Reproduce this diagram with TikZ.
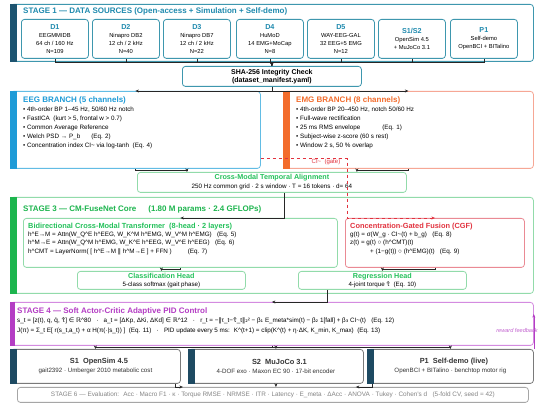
\documentclass[tikz,border=0pt]{standalone}
\usepackage[svgnames]{xcolor}
\usepackage{fontspec}
\setmainfont{Liberation Sans}
\newfontfamily\symfont{DejaVu Sans}
\usepackage{tikz}
\usetikzlibrary{arrows.meta}
\usetikzlibrary{calc}

\definecolor{SrcBlue}{HTML}{1F8AAE}
\definecolor{SrcLine}{HTML}{3E97AE}
\definecolor{SrcBar}{HTML}{1D5470}
\definecolor{EegBlue}{HTML}{1E9BD7}
\definecolor{EegLine}{HTML}{62BCE4}
\definecolor{EmgOrange}{HTML}{F36C2C}
\definecolor{EmgLine}{HTML}{F6A795}
\definecolor{CoreGreen}{HTML}{23C15A}
\definecolor{CoreBar}{HTML}{1DB54E}
\definecolor{CoreLine}{HTML}{92DBAA}
\definecolor{GateRed}{HTML}{E2323E}
\definecolor{GateLine}{HTML}{EA8A94}
\definecolor{PidPurple}{HTML}{B43DC4}
\definecolor{PidLine}{HTML}{D48BE0}
\definecolor{SimBar}{HTML}{1E4A62}
\definecolor{SimLine}{HTML}{7A7A7A}
\definecolor{EvalGrey}{HTML}{858585}

\newcommand{\Sy}[1]{{\symfont #1}}

\begin{document}
\catcode`\_=12 \catcode`\^=12 \catcode`\~=12
\begin{tikzpicture}[x=1pt,y=-1pt,>={Stealth[length=3.5pt,width=3pt]}]
        \tikzset{
            box/.style={draw, rounded corners=3pt, fill=white, line width=0.8pt,
                anchor=north west, inner sep=0pt, align=center},
            body/.style={font=\fontsize{6.3}{9}\selectfont, anchor=base west, inner sep=0pt},
            heading/.style={font=\fontsize{8}{9}\selectfont\bfseries, anchor=base west, inner sep=0pt},
            conn/.style={->, line width=0.8pt, black!85},
            gate/.style={->, dashed, GateRed, line width=0.6pt},
            feedback/.style={->, PidPurple, line width=0.6pt},
        }
        \newcommand{\SideBar}[3][7pt]{% node, colour
            \fill[#3] (#2.north west) rectangle ([xshift=#1]#2.south west);
        }
        \newcommand{\SrcHead}{\fontsize{7.2}{8}\selectfont\bfseries\color{SrcBlue}}
        \newcommand{\BoxHead}{\fontsize{7.2}{9}\selectfont\bfseries\color{CoreGreen}}
        \newcommand{\SimHead}{\fontsize{7.4}{9}\selectfont\bfseries\color{black!80}}

        \useasboundingbox[fill=white] (0,0) rectangle (550,409);

        % stage 1
        \node[box, draw=SrcLine, minimum width=523pt, minimum height=57pt] (st1) at (10,4) {};
        \SideBar{st1}{SrcBar}
        \node[heading, text=SrcBlue] (st1head) at (23,14)
            {STAGE 1 — DATA SOURCES (Open-access + Simulation + Self-demo)};
        \foreach \n/\x/\t in {
            d1/21/{{\SrcHead D1}\\EEGMMIDB\\64 ch / 160 Hz\\N=109},
            d2/92/{{\SrcHead D2}\\Ninapro DB2\\12 ch / 2 kHz\\N=40},
            d3/163/{{\SrcHead D3}\\Ninapro DB7\\12 ch / 2 kHz\\N=22},
            d4/236/{{\SrcHead D4}\\HuMoD\\14 EMG+MoCap\\N=8},
            d5/307/{{\SrcHead D5}\\WAY-EEG-GAL\\32 EEG+5 EMG\\N=12},
            s12/378/{{\SrcHead S1/S2}\\OpenSim 4.5\\+ MuJoCo 3.1},
            p1/450/{{\SrcHead P1}\\Self-demo\\OpenBCI + BITalino}} {
            \node[box, draw=SrcLine, minimum width=67pt, minimum height=39pt,
                font=\fontsize{5.8}{8}\selectfont] (\n) at (\x,19) {\t};
        }

        \node[box, draw=SrcLine, minimum width=179pt, minimum height=20pt,
            font=\fontsize{7}{8}\selectfont\bfseries] (sha) at (182,66)
            {SHA-256 Integrity Check\\(dataset_manifest.yaml)};
        \foreach \n in {d1,d2,d3,d4,d5,s12,p1} {
            \draw[conn] (\n.south) -- ++(0,4) -| (sha.north);
        }

        % branches
        \node[box, draw=EegLine, minimum width=250pt, minimum height=77pt] (eeg) at (10,91) {};
        \SideBar{eeg}{EegBlue}
        \node[heading, text=EegBlue] (eeghead) at (23,103) {EEG BRANCH (5 channels)};
        \foreach \t [count=\i] in {
            {• 4th-order BP 1–45 Hz, 50/60 Hz notch},
            {• FastICA \ (kurt > 5, frontal w > 0.7)},
            {• Common Average Reference},
            {• Welch PSD → P_b\hspace{11pt}(Eq. 2)},
            {• Concentration index CI~ via log-tanh \ (Eq. 4)}} {
            \node[body] at (23,102.3+9*\i) {\t};
        }

        \node[box, draw=EmgLine, minimum width=250pt, minimum height=77pt] (emg) at (283,91) {};
        \SideBar{emg}{EmgOrange}
        \node[heading, text=EmgOrange] (emghead) at (296,103) {EMG BRANCH (8 channels)};
        \foreach \t [count=\i] in {
            {• 4th-order BP 20–450 Hz, notch 50/60 Hz},
            {• Full-wave rectification},
            {• 25 ms RMS envelope\hspace{22pt}(Eq. 1)},
            {• Subject-wise z-score (60 s rest)},
            {• Window 2 s, 50 \% overlap}} {
            \node[body] at (296,102.3+9*\i) {\t};
        }

        \draw[conn] (sha.south) |- (eeg.north);
        \draw[conn] (sha.south) |- (emg.north);

        \node[box, draw=CoreLine, minimum width=269pt, minimum height=20pt,
            font=\fontsize{6.3}{9}\selectfont] (cross) at (137,172)
            {{\BoxHead Cross-Modal Temporal Alignment}\\250 Hz common grid · 2 s window · T = 16 tokens · d= 64};
        \draw[conn] (eeg.south) -- ++(0,2) -| ([xshift=-85pt]cross.north);
        \draw[conn] (emg.south) -- ++(0,2) -| ([xshift=85pt]cross.north);

        % stage 3
        \node[box, draw=CoreLine, minimum width=523pt, minimum height=96pt] (st3) at (10,197) {};
        \SideBar{st3}{CoreBar}
        \node[heading, text=CoreBar] (st3head) at (23,212)
            {STAGE 3 — CM-FuseNet Core\hspace{12pt}(1.80 M params · 2.4 GFLOPs)};

        \node[box, draw=CoreLine, minimum width=314pt, minimum height=49pt] (bcmt) at (23,218) {};
        \node[heading, text=CoreGreen, font=\fontsize{7.4}{9}\selectfont\bfseries] (bcmthead) at (28,229)
            {Bidirectional Cross-Modal Transformer \ (8-head · 2 layers)};
        \foreach \t [count=\i] in {
            {h^E→M = Attn(W_Q^E h^EEG, W_K^M h^EMG, W_V^M h^EMG) \ \ (Eq. 5)},
            {h^M→E = Attn(W_Q^M h^EMG, W_K^E h^EEG, W_V^E h^EEG) \ \ (Eq. 6)},
            {h^CMT = LayerNorm( [ h^E→M \Sy{‖} h^M→E ] + FFN )\hspace{16pt}(Eq. 7)}} {
            \node[body] at (28,228+8.4*\i) {\t};
        }

        \node[box, draw=GateLine, minimum width=179pt, minimum height=49pt] (cgf) at (345,218) {};
        \node[heading, text=GateRed, font=\fontsize{7.4}{9}\selectfont\bfseries] (cgfhead) at (350,229)
            {Concentration-Gated Fusion (CGF)};
        \foreach \t [count=\i] in {
            {g(t) = σ(W_g · CI~(t) + b_g) \ \ (Eq. 8)},
            {z(t) = g(t) ○ (h^CMT)(t)},
            {\hspace{20pt}+ (1−g(t)) ○ (h^EMG)(t) \ \ (Eq. 9)}} {
            \node[body] at (350,228+8.4*\i) {\t};
        }

        \draw[conn] ([xshift=12pt]cross.south) |- (bcmt.north);
        \draw[gate] ([yshift=10pt]eeg.south east) -| ([xshift=2pt]cgf.north west) -- (cgf.north);
        \node[font=\fontsize{6}{7}\selectfont, text=GateRed, inner sep=0pt] (gatelabel) at (326,162) {CI~ \ (gate)};

        \node[box, draw=CoreLine, minimum width=168pt, minimum height=18pt,
            font=\fontsize{6.2}{8}\selectfont] (cls) at (77,271)
            {{\BoxHead Classification Head}\\5-class softmax (gait phase)};
        \node[box, draw=CoreLine, minimum width=168pt, minimum height=18pt,
            font=\fontsize{6.2}{8}\selectfont] (reg) at (298,271)
            {{\BoxHead Regression Head}\\4-joint torque \Sy{τ̂} \ (Eq. 10)};
        \draw[conn] (bcmt.south) -- ++(0,2) -| (cls.north);
        \draw[conn] (cgf.south) -- ++(0,2) -| (reg.north);

        % stage 4
        \node[box, draw=PidLine, minimum width=523pt, minimum height=43pt] (st4) at (10,302) {};
        \SideBar[5pt]{st4}{PidPurple}
        \node[heading, text=PidPurple] (st4head) at (17,314)
            {STAGE 4 — Soft Actor-Critic Adaptive PID Control};
        \node[body] (st4a) at (17,323)
            {s_t = [z(t), q, \Sy{q̇}, \Sy{τ̂}] \Sy{∈} \Sy{ℝ}^80 \ \ · \ \ a_t = [ΔKp, ΔKi, ΔKd] \Sy{∈} \Sy{ℝ}^12 \ \ · \ \ r_t = −\Sy{‖}τ_t−\Sy{τ̂}_t\Sy{‖₂}² − β\Sy{₁} E_meta*sim(t) − β\Sy{₂} 1[fall] + β\Sy{₃} CI~(t) \ \ (Eq. 12)};
        \node[body] (st4b) at (17,332.5)
            {J(π) = Σ_t E[ r(s_t,a_t) + α H(π(·|s_t)) ] \ (Eq. 11) \ \ · \ \ PID update every 5 ms: \ K^(t+1) = clip(K^(t) + η·ΔK, K_min, K_max) \ (Eq. 13)};
        \draw[conn] ([xshift=-55pt]reg.south) |- (st4.north);

        % simulation / demo
        \foreach \n/\x/\w/\t in {
            opensim/10/170/{{\SimHead S1 \ OpenSim 4.5}\\gait2392 · Umberger 2010 metabolic cost},
            mujoco/188/175/{{\SimHead S2 \ MuJoCo 3.1}\\4-DOF exo · Maxon EC 90 · 17-bit encoder},
            selfdemo/367/166/{{\SimHead P1 \ Self-demo (live)}\\OpenBCI + BITalino · benchtop motor rig}} {
            \node[box, draw=SimLine, minimum width=\w pt, minimum height=34pt,
                font=\fontsize{6.2}{9}\selectfont, text=black!80] (\n) at (\x,349) {\hspace{7pt}\t};
            \SideBar{\n}{SimBar}
            \draw[conn] (st4.south) -- ++(0,2) -| (\n.north);
        }
        \draw[feedback] (selfdemo.north east) -- ([yshift=-12pt]st4.north east);
        \node[font=\fontsize{5.6}{7}\selectfont\itshape, text=PidPurple!80, inner sep=0pt] (fblabel) at (517,331) {reward feedback};

        % stage 6
        \node[box, draw=black!35, minimum width=511pt, minimum height=15pt,
            font=\fontsize{6.4}{8}\selectfont, text=EvalGrey] (eval) at (17,387)
            {STAGE 6 — Evaluation: \ Acc · Macro F1 · κ · Torque RMSE · NRMSE · ITR · Latency · E_meta · ΔAcc · ANOVA · Tukey · Cohen's d \ \ (5-fold CV, seed = 42)};
        \draw[conn] ([xshift=-5pt]opensim.south east) |- ([xshift=-90pt]eval.north);
        \draw[conn] (mujoco.south) -- (mujoco.south |- eval.north);
        \draw[conn] ([xshift=5pt]selfdemo.south west) |- ([xshift=83pt]eval.north);
    \end{tikzpicture}
\end{document}
